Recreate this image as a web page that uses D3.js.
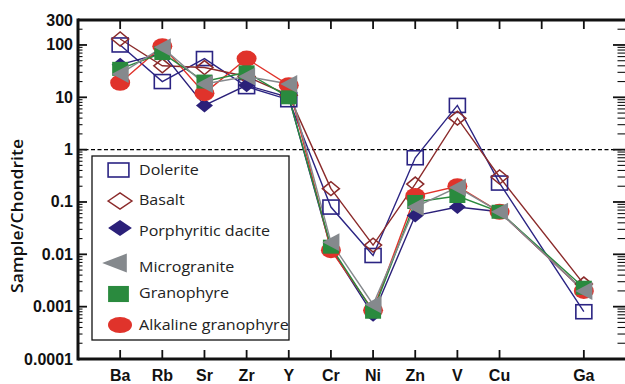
<!DOCTYPE html>
<html><head><meta charset="utf-8">
<script src="https://cdn.jsdelivr.net/npm/d3@7"></script>
<style>body{margin:0;background:#fff}svg{display:block}</style>
</head><body>
<svg id="c" width="625" height="384"></svg>
<script>
// ---- data ----
const slots = ["Ba","Rb","Sr","Zr","Y","Cr","Ni","Zn","V","Cu","gap","Ga"];
const elements = ["Ba","Rb","Sr","Zr","Y","Cr","Ni","Zn","V","Cu","Ga"];
const yTicks = [300,100,10,1,0.1,0.01,0.001,0.0001];
const yTickLabels = ["300","100","10","1","0.1","0.01","0.001","0.0001"];
const dolerite   = [100, 20, 55, 16, 9, 0.08, 0.0095, 0.7, 7, 0.23, 0.0008];
const basalt     = [130, 40, 37, 25, 11, 0.18, 0.015, 0.22, 4, 0.3, 0.0027];
const dacite     = [42, 70, 7, 17, 10, 0.013, 0.0007, 0.055, 0.08, 0.065, 0.002];
const alkaline   = [19, 95, 12, 55, 17, 0.012, 0.00085, 0.13, 0.2, 0.065, 0.002];
const granophyre = [35, 70, 20, 30, 10, 0.014, 0.0008, 0.1, 0.13, 0.065, 0.0023];
const micro      = [28, 90, 18, 25, 18, 0.017, 0.0011, 0.08, 0.19, 0.065, 0.002];
const legendNames = ["Dolerite","Basalt","Porphyritic dacite","Microgranite","Granophyre","Alkaline granophyre"];

// ---- layout ----
const svg = d3.select("#c");
const L = 78, R = 626, T = 20, B = 359;
const x = d3.scalePoint().domain(slots).range([L, R]).padding(1);
const y = d3.scaleLog().domain([0.0001, 300]).range([B, T]);

const series = [
  {name:"Dolerite", v:dolerite, col:"#2b2483", shape:"sq", fill:"none"},
  {name:"Basalt", v:basalt, col:"#8b2b2b", shape:"dia", fill:"none"},
  {name:"Porphyritic dacite", v:dacite, col:"#2b2079", shape:"dia", fill:"#2b2079"},
  {name:"Alkaline granophyre", v:alkaline, col:"#e0332b", shape:"ell", fill:"#e0332b"},
  {name:"Granophyre", v:granophyre, col:"#2a8a3e", shape:"sq", fill:"#2a8a3e"},
  {name:"Microgranite", v:micro, col:"#85898d", shape:"tri", fill:"#85898d"}
];

function marker(g, shape, cx, cy, sx, sy, fill, col) {
  if (shape === "sq") {
    g.append("rect").attr("x", cx - 8*sx).attr("y", cy - 7*sy).attr("width", 16*sx).attr("height", 14*sy)
      .attr("fill", fill).attr("stroke", fill === "none" ? col : "none").attr("stroke-width", 1.6);
  } else if (shape === "dia") {
    const w = 8.5*sx, h = 7*sy;
    g.append("path").attr("d", `M${cx-w},${cy}L${cx},${cy-h}L${cx+w},${cy}L${cx},${cy+h}Z`)
      .attr("fill", fill).attr("stroke", fill === "none" ? col : "none").attr("stroke-width", 1.5);
  } else if (shape === "ell") {
    g.append("ellipse").attr("cx", cx).attr("cy", cy).attr("rx", 10*sx).attr("ry", 8*sy).attr("fill", fill);
  } else if (shape === "tri") {
    const w = 8.5*sx, h = 9*sy;
    g.append("path").attr("d", `M${cx-w},${cy}L${cx+w},${cy-h}L${cx+w},${cy+h}Z`).attr("fill", fill);
  }
}

// dashed line at 1
svg.append("line").attr("x1", L).attr("x2", R).attr("y1", y(1)).attr("y2", y(1))
  .attr("stroke", "#000").attr("stroke-width", 1.3).attr("stroke-dasharray", "4,2.5");

// series
const line = d3.line().x((d, i) => x(elements[i])).y(d => y(d));
series.forEach(s => {
  svg.append("path").datum(s.v).attr("d", line).attr("fill", "none")
    .attr("stroke", s.col).attr("stroke-width", 1.4);
});
series.forEach(s => {
  const g = svg.append("g");
  s.v.forEach((d, i) => marker(g, s.shape, x(elements[i]), y(d), 1, 1, s.fill, s.col));
});

// axes frame
const ax = svg.append("g").attr("stroke", "#111");
const allTicks = [];
for (let e = -4; e <= 2; e++) for (let m = 1; m <= 9; m++) {
  const v = m * Math.pow(10, e);
  if (v <= 300) allTicks.push({v, major: m === 1});
}
allTicks.forEach(t => {
  const yy = y(t.v);
  const len = t.major ? 9 : 4.5;
  ax.append("line").attr("x1", L).attr("x2", L + len).attr("y1", yy).attr("y2", yy).attr("stroke-width", t.major ? 1.8 : 1.1);
  ax.append("line").attr("x1", 625 - len - 3).attr("x2", 625).attr("y1", yy).attr("y2", yy).attr("stroke-width", t.major ? 1.8 : 1.1);
});
slots.forEach(sl => {
  ax.append("line").attr("x1", x(sl)).attr("x2", x(sl)).attr("y1", T).attr("y2", T + 9).attr("stroke-width", 1.8);
});
elements.forEach(el => {
  ax.append("line").attr("x1", x(el)).attr("x2", x(el)).attr("y1", B).attr("y2", B - 9).attr("stroke-width", 1.8);
});
ax.append("line").attr("x1", L).attr("x2", 625).attr("y1", T).attr("y2", T).attr("stroke-width", 3);
ax.append("line").attr("x1", L).attr("x2", 625).attr("y1", B).attr("y2", B).attr("stroke-width", 3);
ax.append("line").attr("x1", L).attr("x2", L).attr("y1", T - 1.5).attr("y2", B + 1.5).attr("stroke-width", 3);

// tick labels
yTicks.forEach((t, i) => {
  svg.append("text").attr("x", 73).attr("y", y(t) + 5.5).attr("text-anchor", "end")
    .attr("font-family", "Liberation Sans, Arial, sans-serif").attr("font-weight", "bold").attr("font-size", 16)
    .attr("fill", "#111").text(yTickLabels[i]);
});
elements.forEach(el => {
  svg.append("text").attr("x", x(el)).attr("y", 381).attr("text-anchor", "middle")
    .attr("font-family", "Liberation Sans, Arial, sans-serif").attr("font-weight", "bold").attr("font-size", 16)
    .attr("fill", "#111").text(el);
});
svg.append("text").attr("transform", "translate(23,216) rotate(-90)").attr("text-anchor", "middle")
  .attr("font-family", "Open Sans, sans-serif").attr("font-weight", 600).attr("font-size", 15.5)
  .attr("textLength", 154).attr("lengthAdjust", "spacingAndGlyphs")
  .attr("fill", "#111").text("Sample/Chondrite");

// legend
const lg = svg.append("g");
lg.append("rect").attr("x", 92).attr("y", 156).attr("width", 197).attr("height", 184)
  .attr("fill", "#fff").attr("stroke", "#111").attr("stroke-width", 1.3);
const legendShapes = {
  "Dolerite": series[0], "Basalt": series[1], "Porphyritic dacite": series[2],
  "Microgranite": series[5], "Granophyre": series[4], "Alkaline granophyre": series[3]
};
const legendSym = [
  {cx:118.5, cy:170, sx:1.3, sy:1.0},
  {cx:120, cy:201, sx:1.4, sy:1.15},
  {cx:120, cy:228, sx:1.4, sy:1.15},
  {cx:114.5, cy:263, sx:1.45, sy:1.05},
  {cx:118.5, cy:294, sx:1.3, sy:1.15},
  {cx:120, cy:325, sx:1.2, sy:1.0}
];
const legendTextY = [175, 205, 236, 272, 298, 330];
legendNames.forEach((n, i) => {
  const s = legendShapes[n], p = legendSym[i];
  if (s.fill === "none") {
    // white-filled open symbol in legend
    marker(lg, s.shape, p.cx, p.cy, p.sx, p.sy, "none", s.col);
  } else {
    marker(lg, s.shape, p.cx, p.cy, p.sx, p.sy, s.fill, s.col);
  }
  const t = lg.append("text").attr("x", 139).attr("y", legendTextY[i]).attr("font-family", "Open Sans, sans-serif")
    .attr("font-size", 15).attr("fill", "#222").text(n);
  const w = t.node().getComputedTextLength();
  t.attr("textLength", w * 1.07).attr("lengthAdjust", "spacingAndGlyphs");
});
</script>
</body></html>
